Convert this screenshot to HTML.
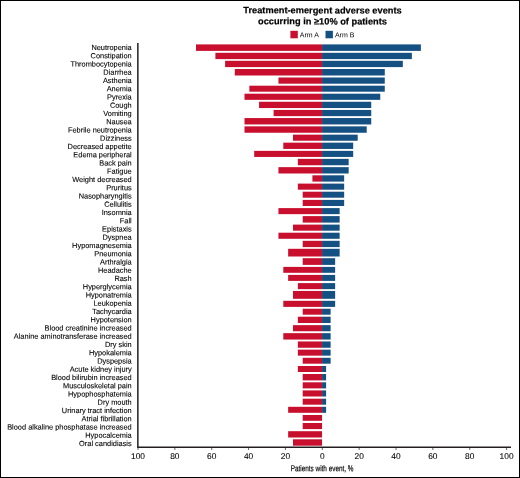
<!DOCTYPE html><html><head><meta charset="utf-8"><title>Treatment-emergent adverse events</title><style>html,body{margin:0;padding:0;background:#fff}svg{display:block;will-change:transform}text{font-family:"Liberation Sans",sans-serif;fill:#000;text-rendering:geometricPrecision}.lb{stroke:#000;stroke-width:0.1}.tt{stroke:#000;stroke-width:0.2}.tk{stroke:#000;stroke-width:0.08}.xl{stroke:#000;stroke-width:0.18}</style></head><body>
<svg width="520" height="478" viewBox="0 0 520 478">
<rect x="0" y="0" width="520" height="478" fill="#fff"/>
<text transform="rotate(0.05 322.5 13.4)" x="322.5" y="13.4" text-anchor="middle" class="tt" font-weight="bold" font-size="9.25" style="fill:#000">Treatment-emergent adverse events</text>
<text transform="rotate(0.05 322.5 24.4)" x="322.5" y="24.4" text-anchor="middle" class="tt" font-weight="bold" font-size="9.25" style="fill:#000">occurring in ≥10% of patients</text>
<rect x="290.4" y="30.8" width="7.4" height="7.5" fill="#C8102E"/>
<text transform="rotate(0.05 299.79999999999995 37.2)" x="299.79999999999995" y="37.2" font-size="7.0">Arm A</text>
<rect x="325.5" y="30.8" width="7.4" height="7.5" fill="#155082"/>
<text transform="rotate(0.05 334.9 37.2)" x="334.9" y="37.2" font-size="7.0">Arm B</text>
<rect x="196.00" y="44.40" width="126.05" height="6.50" fill="#C8102E"/>
<rect x="322.05" y="44.40" width="98.82" height="6.50" fill="#155082"/>
<text transform="rotate(0.05 131.7 50.10)" x="131.7" y="50.10" text-anchor="end" class="lb" font-size="7.4">Neutropenia</text>
<rect x="215.40" y="52.80" width="106.65" height="6.30" fill="#C8102E"/>
<rect x="322.05" y="52.80" width="89.79" height="6.30" fill="#155082"/>
<text transform="rotate(0.05 131.7 58.35)" x="131.7" y="58.35" text-anchor="end" class="lb" font-size="7.4">Constipation</text>
<rect x="225.10" y="60.80" width="96.95" height="6.30" fill="#C8102E"/>
<rect x="322.05" y="60.80" width="80.77" height="6.30" fill="#155082"/>
<text transform="rotate(0.05 131.7 66.60)" x="131.7" y="66.60" text-anchor="end" class="lb" font-size="7.4">Thrombocytopenia</text>
<rect x="234.80" y="69.00" width="87.25" height="6.50" fill="#C8102E"/>
<rect x="322.05" y="69.00" width="62.72" height="6.50" fill="#155082"/>
<text transform="rotate(0.05 131.7 74.85)" x="131.7" y="74.85" text-anchor="end" class="lb" font-size="7.4">Diarrhea</text>
<rect x="278.45" y="77.50" width="43.60" height="6.20" fill="#C8102E"/>
<rect x="322.05" y="77.50" width="62.72" height="6.20" fill="#155082"/>
<text transform="rotate(0.05 131.7 83.10)" x="131.7" y="83.10" text-anchor="end" class="lb" font-size="7.4">Asthenia</text>
<rect x="249.35" y="85.70" width="72.70" height="6.00" fill="#C8102E"/>
<rect x="322.05" y="85.70" width="62.72" height="6.00" fill="#155082"/>
<text transform="rotate(0.05 131.7 91.35)" x="131.7" y="91.35" text-anchor="end" class="lb" font-size="7.4">Anemia</text>
<rect x="244.50" y="93.70" width="77.55" height="6.15" fill="#C8102E"/>
<rect x="322.05" y="93.70" width="58.21" height="6.15" fill="#155082"/>
<text transform="rotate(0.05 131.7 99.60)" x="131.7" y="99.60" text-anchor="end" class="lb" font-size="7.4">Pyrexia</text>
<rect x="259.05" y="101.75" width="63.00" height="6.30" fill="#C8102E"/>
<rect x="322.05" y="101.75" width="49.18" height="6.30" fill="#155082"/>
<text transform="rotate(0.05 131.7 107.85)" x="131.7" y="107.85" text-anchor="end" class="lb" font-size="7.4">Cough</text>
<rect x="273.60" y="109.95" width="48.45" height="6.20" fill="#C8102E"/>
<rect x="322.05" y="109.95" width="49.18" height="6.20" fill="#155082"/>
<text transform="rotate(0.05 131.7 116.10)" x="131.7" y="116.10" text-anchor="end" class="lb" font-size="7.4">Vomiting</text>
<rect x="244.50" y="118.05" width="77.55" height="6.40" fill="#C8102E"/>
<rect x="322.05" y="118.05" width="49.18" height="6.40" fill="#155082"/>
<text transform="rotate(0.05 131.7 124.35)" x="131.7" y="124.35" text-anchor="end" class="lb" font-size="7.4">Nausea</text>
<rect x="244.50" y="126.35" width="77.55" height="6.40" fill="#C8102E"/>
<rect x="322.05" y="126.35" width="44.67" height="6.40" fill="#155082"/>
<text transform="rotate(0.05 131.7 132.60)" x="131.7" y="132.60" text-anchor="end" class="lb" font-size="7.4">Febrile neutropenia</text>
<rect x="293.00" y="134.65" width="29.05" height="6.10" fill="#C8102E"/>
<rect x="322.05" y="134.65" width="35.65" height="6.10" fill="#155082"/>
<text transform="rotate(0.05 131.7 140.85)" x="131.7" y="140.85" text-anchor="end" class="lb" font-size="7.4">Dizziness</text>
<rect x="283.30" y="142.65" width="38.75" height="6.30" fill="#C8102E"/>
<rect x="322.05" y="142.65" width="31.14" height="6.30" fill="#155082"/>
<text transform="rotate(0.05 131.7 149.10)" x="131.7" y="149.10" text-anchor="end" class="lb" font-size="7.4">Decreased appetite</text>
<rect x="254.20" y="150.85" width="67.85" height="6.10" fill="#C8102E"/>
<rect x="322.05" y="150.85" width="31.14" height="6.10" fill="#155082"/>
<text transform="rotate(0.05 131.7 157.35)" x="131.7" y="157.35" text-anchor="end" class="lb" font-size="7.4">Edema peripheral</text>
<rect x="297.85" y="158.85" width="24.20" height="6.40" fill="#C8102E"/>
<rect x="322.05" y="158.85" width="26.62" height="6.40" fill="#155082"/>
<text transform="rotate(0.05 131.7 165.60)" x="131.7" y="165.60" text-anchor="end" class="lb" font-size="7.4">Back pain</text>
<rect x="278.45" y="167.15" width="43.60" height="6.35" fill="#C8102E"/>
<rect x="322.05" y="167.15" width="26.62" height="6.35" fill="#155082"/>
<text transform="rotate(0.05 131.7 173.85)" x="131.7" y="173.85" text-anchor="end" class="lb" font-size="7.4">Fatigue</text>
<rect x="312.40" y="175.30" width="9.65" height="6.30" fill="#C8102E"/>
<rect x="322.05" y="175.30" width="22.11" height="6.30" fill="#155082"/>
<text transform="rotate(0.05 131.7 182.10)" x="131.7" y="182.10" text-anchor="end" class="lb" font-size="7.4">Weight decreased</text>
<rect x="297.85" y="183.60" width="24.20" height="6.10" fill="#C8102E"/>
<rect x="322.05" y="183.60" width="22.11" height="6.10" fill="#155082"/>
<text transform="rotate(0.05 131.7 190.35)" x="131.7" y="190.35" text-anchor="end" class="lb" font-size="7.4">Pruritus</text>
<rect x="302.70" y="191.70" width="19.35" height="6.00" fill="#C8102E"/>
<rect x="322.05" y="191.70" width="22.11" height="6.00" fill="#155082"/>
<text transform="rotate(0.05 131.7 198.60)" x="131.7" y="198.60" text-anchor="end" class="lb" font-size="7.4">Nasopharyngitis</text>
<rect x="302.70" y="199.90" width="19.35" height="6.10" fill="#C8102E"/>
<rect x="322.05" y="199.90" width="22.11" height="6.10" fill="#155082"/>
<text transform="rotate(0.05 131.7 206.85)" x="131.7" y="206.85" text-anchor="end" class="lb" font-size="7.4">Cellulitis</text>
<rect x="278.45" y="208.10" width="43.60" height="6.05" fill="#C8102E"/>
<rect x="322.05" y="208.10" width="17.60" height="6.05" fill="#155082"/>
<text transform="rotate(0.05 131.7 215.10)" x="131.7" y="215.10" text-anchor="end" class="lb" font-size="7.4">Insomnia</text>
<rect x="302.70" y="216.10" width="19.35" height="6.50" fill="#C8102E"/>
<rect x="322.05" y="216.10" width="17.60" height="6.50" fill="#155082"/>
<text transform="rotate(0.05 131.7 223.35)" x="131.7" y="223.35" text-anchor="end" class="lb" font-size="7.4">Fall</text>
<rect x="293.00" y="224.60" width="29.05" height="6.10" fill="#C8102E"/>
<rect x="322.05" y="224.60" width="17.60" height="6.10" fill="#155082"/>
<text transform="rotate(0.05 131.7 231.60)" x="131.7" y="231.60" text-anchor="end" class="lb" font-size="7.4">Epistaxis</text>
<rect x="278.45" y="232.70" width="43.60" height="6.10" fill="#C8102E"/>
<rect x="322.05" y="232.70" width="17.60" height="6.10" fill="#155082"/>
<text transform="rotate(0.05 131.7 239.85)" x="131.7" y="239.85" text-anchor="end" class="lb" font-size="7.4">Dyspnea</text>
<rect x="302.70" y="240.80" width="19.35" height="6.30" fill="#C8102E"/>
<rect x="322.05" y="240.80" width="17.60" height="6.30" fill="#155082"/>
<text transform="rotate(0.05 131.7 248.10)" x="131.7" y="248.10" text-anchor="end" class="lb" font-size="7.4">Hypomagnesemia</text>
<rect x="288.15" y="248.80" width="33.90" height="7.70" fill="#C8102E"/>
<rect x="322.05" y="248.80" width="17.60" height="7.70" fill="#155082"/>
<text transform="rotate(0.05 131.7 256.35)" x="131.7" y="256.35" text-anchor="end" class="lb" font-size="7.4">Pneumonia</text>
<rect x="302.70" y="258.20" width="19.35" height="6.70" fill="#C8102E"/>
<rect x="322.05" y="258.20" width="13.09" height="6.70" fill="#155082"/>
<text transform="rotate(0.05 131.7 264.60)" x="131.7" y="264.60" text-anchor="end" class="lb" font-size="7.4">Arthralgia</text>
<rect x="283.30" y="266.90" width="38.75" height="5.90" fill="#C8102E"/>
<rect x="322.05" y="266.90" width="13.09" height="5.90" fill="#155082"/>
<text transform="rotate(0.05 131.7 272.85)" x="131.7" y="272.85" text-anchor="end" class="lb" font-size="7.4">Headache</text>
<rect x="288.15" y="274.90" width="33.90" height="6.00" fill="#C8102E"/>
<rect x="322.05" y="274.90" width="13.09" height="6.00" fill="#155082"/>
<text transform="rotate(0.05 131.7 281.10)" x="131.7" y="281.10" text-anchor="end" class="lb" font-size="7.4">Rash</text>
<rect x="297.85" y="283.10" width="24.20" height="6.05" fill="#C8102E"/>
<rect x="322.05" y="283.10" width="13.09" height="6.05" fill="#155082"/>
<text transform="rotate(0.05 131.7 289.35)" x="131.7" y="289.35" text-anchor="end" class="lb" font-size="7.4">Hyperglycemia</text>
<rect x="293.00" y="290.95" width="29.05" height="7.85" fill="#C8102E"/>
<rect x="322.05" y="290.95" width="13.09" height="7.85" fill="#155082"/>
<text transform="rotate(0.05 131.7 297.60)" x="131.7" y="297.60" text-anchor="end" class="lb" font-size="7.4">Hyponatremia</text>
<rect x="283.30" y="300.80" width="38.75" height="6.10" fill="#C8102E"/>
<rect x="322.05" y="300.80" width="13.09" height="6.10" fill="#155082"/>
<text transform="rotate(0.05 131.7 305.85)" x="131.7" y="305.85" text-anchor="end" class="lb" font-size="7.4">Leukopenia</text>
<rect x="302.70" y="308.75" width="19.35" height="5.95" fill="#C8102E"/>
<rect x="322.05" y="308.75" width="8.57" height="5.95" fill="#155082"/>
<text transform="rotate(0.05 131.7 314.10)" x="131.7" y="314.10" text-anchor="end" class="lb" font-size="7.4">Tachycardia</text>
<rect x="297.85" y="316.70" width="24.20" height="6.30" fill="#C8102E"/>
<rect x="322.05" y="316.70" width="8.57" height="6.30" fill="#155082"/>
<text transform="rotate(0.05 131.7 322.35)" x="131.7" y="322.35" text-anchor="end" class="lb" font-size="7.4">Hypotension</text>
<rect x="293.00" y="325.15" width="29.05" height="6.10" fill="#C8102E"/>
<rect x="322.05" y="325.15" width="8.57" height="6.10" fill="#155082"/>
<text transform="rotate(0.05 131.7 330.60)" x="131.7" y="330.60" text-anchor="end" class="lb" font-size="7.4">Blood creatinine increased</text>
<rect x="283.30" y="333.15" width="38.75" height="6.40" fill="#C8102E"/>
<rect x="322.05" y="333.15" width="8.57" height="6.40" fill="#155082"/>
<text transform="rotate(0.05 131.7 338.85)" x="131.7" y="338.85" text-anchor="end" class="lb" font-size="7.4">Alanine aminotransferase increased</text>
<rect x="297.85" y="341.45" width="24.20" height="6.30" fill="#C8102E"/>
<rect x="322.05" y="341.45" width="8.57" height="6.30" fill="#155082"/>
<text transform="rotate(0.05 131.7 347.10)" x="131.7" y="347.10" text-anchor="end" class="lb" font-size="7.4">Dry skin</text>
<rect x="297.85" y="349.65" width="24.20" height="6.00" fill="#C8102E"/>
<rect x="322.05" y="349.65" width="8.57" height="6.00" fill="#155082"/>
<text transform="rotate(0.05 131.7 355.35)" x="131.7" y="355.35" text-anchor="end" class="lb" font-size="7.4">Hypokalemia</text>
<rect x="302.70" y="357.80" width="19.35" height="5.90" fill="#C8102E"/>
<rect x="322.05" y="357.80" width="8.57" height="5.90" fill="#155082"/>
<text transform="rotate(0.05 131.7 363.60)" x="131.7" y="363.60" text-anchor="end" class="lb" font-size="7.4">Dyspepsia</text>
<rect x="297.85" y="366.00" width="24.20" height="6.00" fill="#C8102E"/>
<rect x="322.05" y="366.00" width="4.06" height="6.00" fill="#155082"/>
<text transform="rotate(0.05 131.7 371.85)" x="131.7" y="371.85" text-anchor="end" class="lb" font-size="7.4">Acute kidney injury</text>
<rect x="302.70" y="374.00" width="19.35" height="6.40" fill="#C8102E"/>
<rect x="322.05" y="374.00" width="4.06" height="6.40" fill="#155082"/>
<text transform="rotate(0.05 131.7 380.10)" x="131.7" y="380.10" text-anchor="end" class="lb" font-size="7.4">Blood bilirubin increased</text>
<rect x="302.70" y="382.30" width="19.35" height="6.10" fill="#C8102E"/>
<rect x="322.05" y="382.30" width="4.06" height="6.10" fill="#155082"/>
<text transform="rotate(0.05 131.7 388.35)" x="131.7" y="388.35" text-anchor="end" class="lb" font-size="7.4">Musculoskeletal pain</text>
<rect x="302.70" y="390.40" width="19.35" height="6.10" fill="#C8102E"/>
<rect x="322.05" y="390.40" width="4.06" height="6.10" fill="#155082"/>
<text transform="rotate(0.05 131.7 396.60)" x="131.7" y="396.60" text-anchor="end" class="lb" font-size="7.4">Hypophosphatemia</text>
<rect x="302.70" y="398.70" width="19.35" height="6.00" fill="#C8102E"/>
<rect x="322.05" y="398.70" width="4.06" height="6.00" fill="#155082"/>
<text transform="rotate(0.05 131.7 404.85)" x="131.7" y="404.85" text-anchor="end" class="lb" font-size="7.4">Dry mouth</text>
<rect x="288.15" y="406.80" width="33.90" height="6.00" fill="#C8102E"/>
<rect x="322.05" y="406.80" width="4.06" height="6.00" fill="#155082"/>
<text transform="rotate(0.05 131.7 413.10)" x="131.7" y="413.10" text-anchor="end" class="lb" font-size="7.4">Urinary tract infection</text>
<rect x="302.70" y="415.00" width="19.35" height="5.80" fill="#C8102E"/>
<text transform="rotate(0.05 131.7 421.35)" x="131.7" y="421.35" text-anchor="end" class="lb" font-size="7.4">Atrial fibrillation</text>
<rect x="302.70" y="423.00" width="19.35" height="6.10" fill="#C8102E"/>
<text transform="rotate(0.05 131.7 429.60)" x="131.7" y="429.60" text-anchor="end" class="lb" font-size="7.4">Blood alkaline phosphatase increased</text>
<rect x="288.15" y="431.20" width="33.90" height="6.30" fill="#C8102E"/>
<text transform="rotate(0.05 131.7 437.85)" x="131.7" y="437.85" text-anchor="end" class="lb" font-size="7.4">Hypocalcemia</text>
<rect x="293.00" y="439.30" width="29.05" height="6.40" fill="#C8102E"/>
<text transform="rotate(0.05 131.7 446.10)" x="131.7" y="446.10" text-anchor="end" class="lb" font-size="7.4">Oral candidiasis</text>
<line x1="137.85" y1="43.0" x2="137.85" y2="447.15" stroke="#231F20" stroke-width="1.5"/>
<line x1="137.1" y1="447.15" x2="511.0" y2="447.15" stroke="#231F20" stroke-width="1.5"/>
<line x1="138.00" y1="447.15" x2="138.00" y2="449.95" stroke="#231F20" stroke-width="0.7"/>
<text transform="rotate(0.05 138.00 459.0)" x="138.00" y="459.0" text-anchor="middle" class="tk" font-size="8.4">100</text>
<line x1="174.86" y1="447.15" x2="174.86" y2="449.95" stroke="#231F20" stroke-width="0.7"/>
<text transform="rotate(0.05 174.86 459.0)" x="174.86" y="459.0" text-anchor="middle" class="tk" font-size="8.4">80</text>
<line x1="211.72" y1="447.15" x2="211.72" y2="449.95" stroke="#231F20" stroke-width="0.7"/>
<text transform="rotate(0.05 211.72 459.0)" x="211.72" y="459.0" text-anchor="middle" class="tk" font-size="8.4">60</text>
<line x1="248.58" y1="447.15" x2="248.58" y2="449.95" stroke="#231F20" stroke-width="0.7"/>
<text transform="rotate(0.05 248.58 459.0)" x="248.58" y="459.0" text-anchor="middle" class="tk" font-size="8.4">40</text>
<line x1="285.44" y1="447.15" x2="285.44" y2="449.95" stroke="#231F20" stroke-width="0.7"/>
<text transform="rotate(0.05 285.44 459.0)" x="285.44" y="459.0" text-anchor="middle" class="tk" font-size="8.4">20</text>
<line x1="322.30" y1="447.15" x2="322.30" y2="449.95" stroke="#231F20" stroke-width="0.7"/>
<text transform="rotate(0.05 322.30 459.0)" x="322.30" y="459.0" text-anchor="middle" class="tk" font-size="8.4">0</text>
<line x1="359.16" y1="447.15" x2="359.16" y2="449.95" stroke="#231F20" stroke-width="0.7"/>
<text transform="rotate(0.05 359.16 459.0)" x="359.16" y="459.0" text-anchor="middle" class="tk" font-size="8.4">20</text>
<line x1="396.02" y1="447.15" x2="396.02" y2="449.95" stroke="#231F20" stroke-width="0.7"/>
<text transform="rotate(0.05 396.02 459.0)" x="396.02" y="459.0" text-anchor="middle" class="tk" font-size="8.4">40</text>
<line x1="432.88" y1="447.15" x2="432.88" y2="449.95" stroke="#231F20" stroke-width="0.7"/>
<text transform="rotate(0.05 432.88 459.0)" x="432.88" y="459.0" text-anchor="middle" class="tk" font-size="8.4">60</text>
<line x1="469.74" y1="447.15" x2="469.74" y2="449.95" stroke="#231F20" stroke-width="0.7"/>
<text transform="rotate(0.05 469.74 459.0)" x="469.74" y="459.0" text-anchor="middle" class="tk" font-size="8.4">80</text>
<line x1="506.60" y1="447.15" x2="506.60" y2="449.95" stroke="#231F20" stroke-width="0.7"/>
<text transform="rotate(0.05 506.60 459.0)" x="506.60" y="459.0" text-anchor="middle" class="tk" font-size="8.4">100</text>
<text transform="rotate(0.05 290.7 471.2)" class="xl" x="290.7" y="471.2" font-size="8.5" textLength="62.8" lengthAdjust="spacingAndGlyphs">Patients with event, %</text>
<rect x="0.5" y="0.5" width="519" height="477" fill="none" stroke="#000" stroke-width="1"/>
</svg></body></html>
